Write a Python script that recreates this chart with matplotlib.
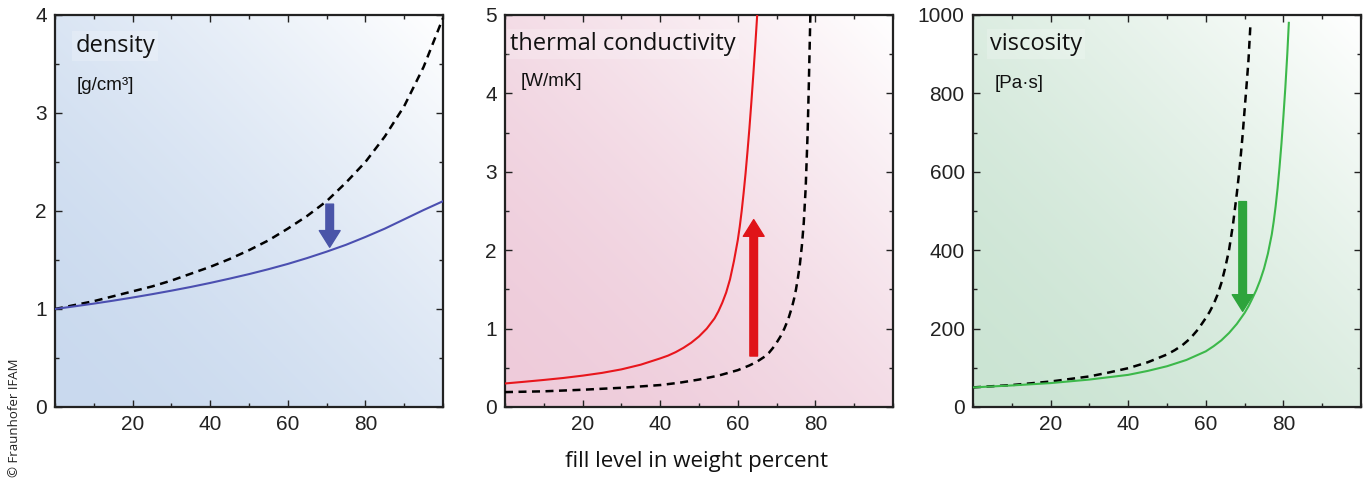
import matplotlib.pyplot as plt
import numpy as np
from matplotlib.patches import FancyArrowPatch
from matplotlib.colors import to_rgb
from matplotlib.ticker import MultipleLocator

# density panel
dens_x = [0, 5, 10, 15, 20, 25, 30, 35, 40, 45, 50, 55, 60, 65, 70, 75, 80, 85, 90, 95, 100]
dens_ref = [1.0, 1.04, 1.08, 1.13, 1.18, 1.23, 1.29, 1.36, 1.43, 1.51, 1.60, 1.70, 1.82, 1.95,
            2.10, 2.29, 2.50, 2.76, 3.07, 3.47, 3.97]
dens_new = [1.0, 1.027, 1.055, 1.085, 1.117, 1.151, 1.187, 1.225, 1.266, 1.31, 1.356, 1.406,
            1.46, 1.52, 1.585, 1.655, 1.735, 1.82, 1.915, 2.01, 2.10]

# thermal conductivity panel
tc_new_x = [0, 5, 10, 15, 20, 25, 30, 35, 40, 42, 44, 46, 48, 50, 52, 54, 55, 56, 57, 58, 59,
            60, 60.5, 61, 61.5, 62, 62.5, 63, 63.5, 64, 64.5, 65]
tc_new = [0.30, 0.322, 0.345, 0.37, 0.40, 0.435, 0.48, 0.54, 0.62, 0.655, 0.70, 0.755, 0.82,
          0.90, 1.00, 1.13, 1.22, 1.33, 1.46, 1.63, 1.86, 2.13, 2.30, 2.50, 2.73, 2.98, 3.26,
          3.56, 3.89, 4.24, 4.61, 5.0]
tc_ref_x = [0, 10, 20, 30, 40, 45, 50, 55, 60, 63, 65, 67, 68, 69, 70, 71, 72, 73, 74, 74.5,
            75, 75.5, 76, 76.5, 77, 77.5, 78, 78.3, 78.7]
tc_ref = [0.19, 0.20, 0.22, 0.245, 0.28, 0.31, 0.35, 0.40, 0.47, 0.53, 0.58, 0.645, 0.69, 0.75,
          0.82, 0.90, 1.0, 1.12, 1.28, 1.38, 1.50, 1.65, 1.82, 2.05, 2.35, 2.80, 3.5, 4.1, 5.0]

# viscosity panel
vis_new_x = [0, 10, 20, 30, 40, 45, 50, 55, 60, 62, 64, 66, 68, 70, 71, 72, 73, 74, 75, 76,
             77, 77.5, 78, 78.5, 79, 79.5, 80, 80.5, 81, 81.4]
vis_new = [50, 55, 61, 70, 82, 92, 104, 120, 142, 155, 170, 189, 212, 240, 257, 277, 298, 323,
           353, 391, 440, 473, 512, 558, 612, 672, 741, 815, 900, 980]
vis_ref_x = [0, 10, 20, 30, 35, 40, 45, 50, 52, 54, 56, 58, 60, 61, 62, 63, 64, 65, 66, 67, 68,
             68.5, 69, 69.5, 70, 70.5, 71, 71.5]
vis_ref = [50, 56, 65, 78, 88, 99, 114, 134, 145, 158, 175, 198, 227, 243, 262, 286, 316, 355,
           401, 465, 545, 590, 640, 695, 758, 820, 885, 975]

titles = ["density", "thermal conductivity", "viscosity"]
units = ["[g/cm³]", "[W/mK]", "[Pa·s]"]
ylims = [4, 5, 1000]
yminor = [0.5, 0.5, 100]
ymajor = [1, 1, 200]
xticks = [20, 40, 60, 80]
# arrow (x, y_start, y_end)
arrows = [(70.8, 2.07, 1.63), (64.1, 0.65, 2.39), (69.5, 524, 244)]

bg_colors = ["#c9d9ee", "#eecbda", "#cbe4d3"]
line_colors = ["#4b4fb0", "#e8161c", "#3cb84a"]
arrow_colors = ["#4a55a8", "#e01419", "#2ea43c"]

fig = plt.figure(figsize=(13.65, 4.8), dpi=100)
lefts = [55 / 1365, 505 / 1365, 973 / 1365]
w = 388 / 1365
b = 1 - 407 / 480
h = 392 / 480

series = [
    ((dens_x, dens_ref), (dens_x, dens_new)),
    ((tc_ref_x, tc_ref), (tc_new_x, tc_new)),
    ((vis_ref_x, vis_ref), (vis_new_x, vis_new)),
]
title_pos = [(0.052, 0.906), (0.013, 0.91), (0.044, 0.91)]
unit_pos = [(0.057, 0.82), (0.039, 0.83), (0.057, 0.826)]

for i in range(3):
    ax = fig.add_axes([lefts[i], b, w, h])

    # diagonal gradient background: colour bottom-left -> white top-right
    gx, gy = np.meshgrid(np.linspace(0, 1, 200), np.linspace(0, 1, 200))
    t = np.clip((gx + (1 - gy)) / 2, 0, 1) ** 1.6  # rows run top->bottom
    c0 = np.array(to_rgb(bg_colors[i]))
    c1 = np.array([1.0, 1.0, 1.0])
    img = c0[None, None, :] * (1 - t[..., None]) + c1[None, None, :] * t[..., None]
    ax.imshow(img, extent=[0, 1, 0, 1], transform=ax.transAxes, aspect='auto', zorder=0)

    (rx, ry), (nx, ny) = series[i]
    ax.plot(rx, ry, color='black', linestyle=(0, (3.2, 2.2)), linewidth=1.8, zorder=3)
    ax.plot(nx, ny, color=line_colors[i], linewidth=1.5, zorder=3)

    ax_x, y0, y1 = arrows[i]
    arr = FancyArrowPatch((ax_x, y0), (ax_x, y1),
                          arrowstyle='simple,head_width=15,head_length=12,tail_width=5.5',
                          mutation_scale=1, color=arrow_colors[i], shrinkA=0, shrinkB=0, zorder=4)
    ax.add_patch(arr)

    ax.set_xlim(0, 100)
    ax.set_ylim(0, ylims[i])
    ax.set_xticks(xticks)
    ax.xaxis.set_minor_locator(MultipleLocator(10))
    ax.yaxis.set_major_locator(MultipleLocator(ymajor[i]))
    ax.yaxis.set_minor_locator(MultipleLocator(yminor[i]))
    ax.tick_params(which='both', direction='in', top=True, right=True, colors='#222222',
                   labelsize=15, width=1.0)
    ax.tick_params(which='major', length=5, pad=6)
    ax.tick_params(which='minor', length=3)
    for lab in ax.get_xticklabels() + ax.get_yticklabels():
        lab.set_family('Liberation Sans')
        lab.set_color('#222222')
    for sp in ax.spines.values():
        sp.set_linewidth(1.6)
        sp.set_color('#222222')

    ax.text(title_pos[i][0], title_pos[i][1], titles[i], transform=ax.transAxes,
            fontsize=17, family='Open Sans', color='#111111', va='baseline', ha='left', zorder=5,
            bbox=dict(facecolor='white', alpha=0.2, edgecolor='none', pad=2))
    ax.text(unit_pos[i][0], unit_pos[i][1], units[i], transform=ax.transAxes,
            fontsize=13.5, family='Liberation Sans', color='#111111', va='center', ha='left', zorder=5)

fig.text(697 / 1365, 1 - 462 / 480, "fill level in weight percent", fontsize=16,
         family='Open Sans', ha='center', va='center', color='#111111')
fig.text(15 / 1365, 1 - 418 / 480, "© Fraunhofer IFAM", fontsize=9.5, family='Open Sans',
         rotation=90, ha='center', va='center', color='#222222')

fig.savefig('out.png', dpi=100)
